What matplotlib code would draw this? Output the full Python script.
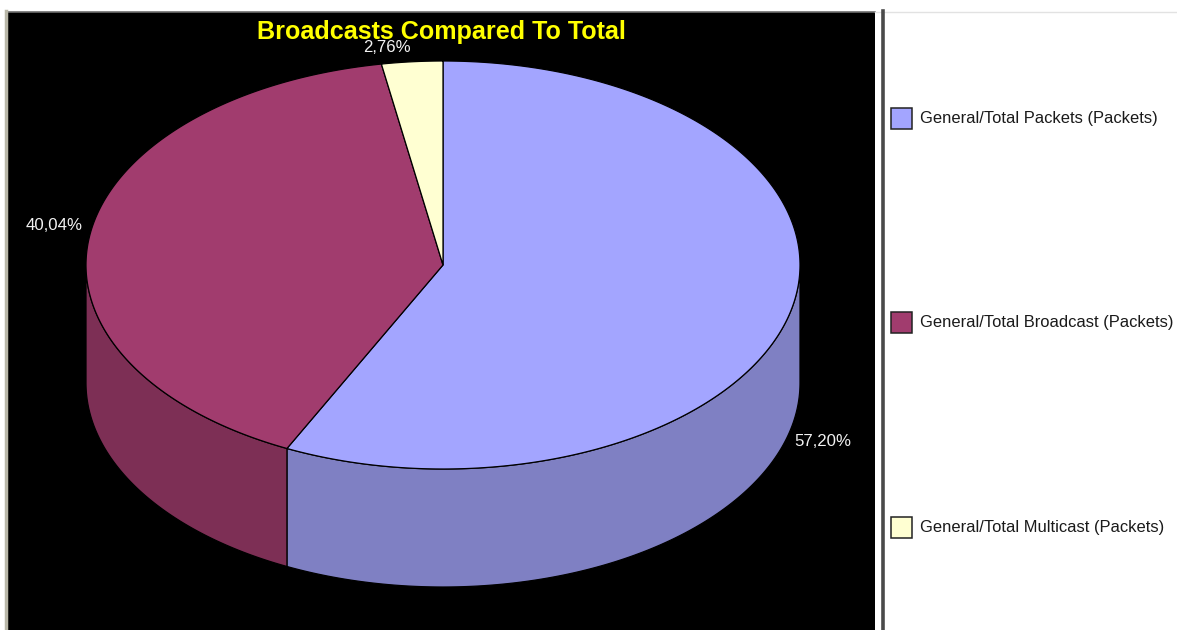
from __future__ import annotations

import numpy as np
import matplotlib
matplotlib.use("Agg")
import matplotlib.pyplot as plt
from matplotlib.patches import Polygon, Rectangle

TITLE = "Broadcasts Compared To Total"
CATEGORIES = [
    "General/Total Packets (Packets)",
    "General/Total Broadcast (Packets)",
    "General/Total Multicast (Packets)",
]
SHARES = [57.20, 40.04, 2.76]
SHARE_LABELS = ["57,20%", "40,04%", "2,76%"]
TOP_COLORS = ["#a3a5ff", "#a13c6e", "#ffffd2"]
SIDE_COLORS = ["#7f80c3", "#7d2f55", "#c6c6a3"]

WIDTH, HEIGHT = 1177, 630
CX, CY, RX, RY, DEPTH = 443.0, 265.0, 357.0, 204.0, 118.0


def ellipse_xy(theta, drop=0.0):
    # theta in degrees, clockwise from twelve o'clock
    t = np.radians(theta)
    return CX + RX * np.sin(t), CY + drop - RY * np.cos(t)


def draw_side(ax, start, end, color):
    # only the front half of the rim (90..270 deg) is visible
    lo, hi = max(start, 90.0), min(end, 270.0)
    if lo >= hi:
        return
    theta = np.linspace(lo, hi, 200)
    x, y = ellipse_xy(theta)
    xb, yb = ellipse_xy(theta[::-1], DEPTH)
    pts = np.column_stack([np.r_[x, xb], np.r_[y, yb]])
    ax.add_patch(Polygon(pts, closed=True, fc=color, ec="black", lw=0.9, zorder=2))


def draw_top(ax, start, end, color):
    theta = np.linspace(start, end, 300)
    x, y = ellipse_xy(theta)
    pts = np.column_stack([np.r_[CX, x], np.r_[CY, y]])
    ax.add_patch(Polygon(pts, closed=True, fc=color, ec="black", lw=0.9, zorder=3))


fig = plt.figure(figsize=(WIDTH / 100, HEIGHT / 100), dpi=100, facecolor="white")
ax = fig.add_axes([0, 0, 1, 1])
ax.set_xlim(0, WIDTH)
ax.set_ylim(HEIGHT, 0)
ax.axis("off")

# window frame
ax.add_patch(Rectangle((7, 12), 868, 618, fc="black", ec="none", zorder=0))
ax.plot([6, 875], [11.5, 11.5], color="#6e6e6e", lw=1.2, zorder=1)
ax.plot([5.5, 5.5], [11, 630], color="#b9b7a8", lw=2.5, zorder=1)
ax.plot([875, 1177], [11.5, 11.5], color="#e2e2e2", lw=1.0, zorder=1)
ax.plot([882.5, 882.5], [11, 630], color="#4a4a4a", lw=2.6, zorder=1)

# pie
edges = np.cumsum([0.0] + SHARES) / sum(SHARES) * 360.0
for i in range(len(SHARES)):
    draw_side(ax, edges[i], edges[i + 1], SIDE_COLORS[i])
for i in range(len(SHARES)):
    draw_top(ax, edges[i], edges[i + 1], TOP_COLORS[i])

# labels
label_pos = [(823, 441), (54, 225), (387, 47)]
for text, (x, y) in zip(SHARE_LABELS, label_pos):
    ax.text(x, y, text, color="#f2f2f2", fontsize=12.1, family="Liberation Sans",
            ha="center", va="center", zorder=5)

ax.text(441, 32, TITLE, color="#ffff00", fontsize=18.1, fontweight="bold",
        family="Liberation Sans", ha="center", va="center", zorder=6)

# legend
legend_y = [118, 322, 527]
for name, color, y in zip(CATEGORIES, TOP_COLORS, legend_y):
    ax.add_patch(Rectangle((890.5, y - 10), 21, 21, fc=color, ec="#222222", lw=1.1, zorder=3))
    ax.text(920, y + 0.5, name, color="#1a1a1a", fontsize=11.9, family="Liberation Sans",
            ha="left", va="center", zorder=3)

fig.savefig("out.png", dpi=100)
plt.close(fig)
